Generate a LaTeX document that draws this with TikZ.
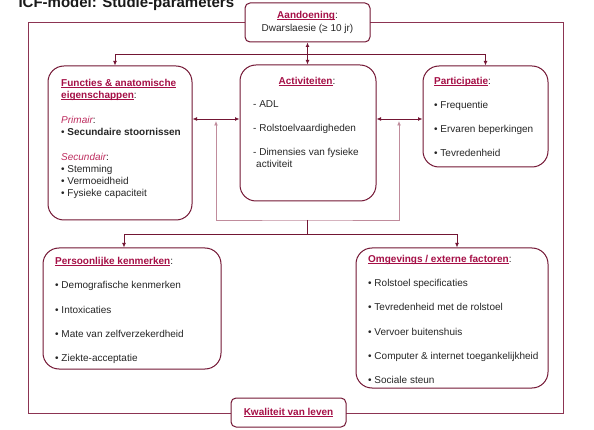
\documentclass[tikz,border=0pt]{standalone}
\usepackage{fontspec}
\setmainfont{Liberation Sans}
\usepackage{tikz}
\usetikzlibrary{arrows.meta, positioning}

\definecolor{boxred}{RGB}{115,22,52}
\definecolor{framered}{RGB}{140,52,82}
\definecolor{titlered}{RGB}{165,15,70}
\definecolor{primred}{RGB}{190,45,95}
\definecolor{fbred}{RGB}{192,140,156}

\newcommand{\kop}[1]{\textcolor{titlered}{\bfseries\setbox0\hbox{#1}\rlap{\rule[-1.6pt]{\wd0}{0.8pt}}\box0}}

\begin{document}
\begin{tikzpicture}[x=1pt, y=-1pt, >={Latex[length=4.5pt,width=4pt]},
  bigbox/.style={draw=boxred, line width=1pt, fill=white, rounded corners=16pt, inner sep=0pt},
  smallbox/.style={draw=boxred, line width=1pt, fill=white, rounded corners=5pt, inner sep=0pt,
    align=center, font=\fontsize{10}{13}\selectfont, text=black!85},
  boxtext/.style={anchor=north west, align=left, inner sep=0pt,
    font=\fontsize{10}{12}\selectfont, text=black!85},
  link/.style={draw=boxred, line width=0.9pt},
  feedback/.style={draw=fbred, line width=0.9pt}]
  \useasboundingbox (0,0) rectangle (594,430);
  \node (title) at (15,7.5) [anchor=base west, font=\fontsize{15}{18}\selectfont\bfseries, text=black!90] {ICF-model: Studie-parameters};
  \draw [framered, line width=1pt] (28,23) rectangle (563,413);

  \node (aand) at (307.5,22.5) [smallbox, minimum width=125pt, minimum height=39pt] {\kop{Aandoening}:\\Dwarslaesie (≥ 10 jr)};
  \node (kwal) at (288.5,412.5) [smallbox, minimum width=115pt, minimum height=29pt] {\kop{Kwaliteit van leven}};

  \node (func) at (120,143) [bigbox, minimum width=144pt, minimum height=154pt] {};
  \node (act) at (308,133) [bigbox, minimum width=136pt, minimum height=136pt] {};
  \node (part) at (485.5,116.5) [bigbox, minimum width=125pt, minimum height=101pt] {};
  \node (pers) at (132,308.5) [bigbox, minimum width=178pt, minimum height=121pt] {};
  \node (omg) at (452,318) [bigbox, minimum width=192pt, minimum height=140pt] {};

  \node (functext) at (61,79) [boxtext] {\kop{Functies \& anatomische}\\\kop{eigenschappen}:\\[13pt]
    \textcolor{primred}{\itshape Primair}:\\\textbullet{} \textbf{Secundaire stoornissen}\\[13pt]
    \textcolor{primred}{\itshape Secundair}:\\\textbullet{} Stemming\\\textbullet{} Vermoeidheid\\\textbullet{} Fysieke capaciteit};
  \node (acttitle) at (307,77) [boxtext, anchor=north] {\kop{Activiteiten}:};
  \node (acttext) at (253,100) [boxtext] {- ADL\\[12pt]- Rolstoelvaardigheden\\[12pt]- Dimensies van fysieke\\\hspace*{3pt}activiteit};
  \node (parttext) at (434,77) [boxtext] {\kop{Participatie}:\\[12pt]\textbullet{} Frequentie\\[12pt]\textbullet{} Ervaren beperkingen\\[12pt]\textbullet{} Tevredenheid};
  \node (perstext) at (55,257) [boxtext] {\kop{Persoonlijke kenmerken}:\\[12.3pt]\textbullet{} Demografische kenmerken\\[12.3pt]\textbullet{} Intoxicaties\\[12.3pt]\textbullet{} Mate van zelfverzekerdheid\\[12.3pt]\textbullet{} Ziekte-acceptatie};
  \node (omgtext) at (368,255) [boxtext] {\kop{Omgevings / externe factoren}:\\[12.2pt]\textbullet{} Rolstoel specificaties\\[12.2pt]\textbullet{} Tevredenheid met de rolstoel\\[12.2pt]\textbullet{} Vervoer buitenshuis\\[12.2pt]\textbullet{} Computer \& internet toegankelijkheid\\[12.2pt]\textbullet{} Sociale steun};

  \coordinate (midrow) at (0,119);
  \coordinate (fbleft) at (216,121);
  \coordinate (fbright) at (399,121);
  \coordinate (fbbase) at (307,220);
  \draw [link, <->] (aand.south) -- (aand.south |- act.north);
  \draw [link, <->] ([xshift=-5pt]func.north) -- ++(0,-11) -| (part.north);
  \draw [link, <->] (func.east |- midrow) -- (act.west |- midrow);
  \draw [link, <->] (act.east |- midrow) -- (part.west |- midrow);
  \draw [feedback, <->] (fbleft) |- (fbbase) -| (fbright);
  \draw [link] (fbbase) -- ++(0,14) coordinate (lowbar);
  \draw [link, ->] (lowbar) -| ([xshift=-8pt]pers.north);
  \draw [link, ->] (lowbar) -| ([xshift=5pt]omg.north);
\end{tikzpicture}
\end{document}
